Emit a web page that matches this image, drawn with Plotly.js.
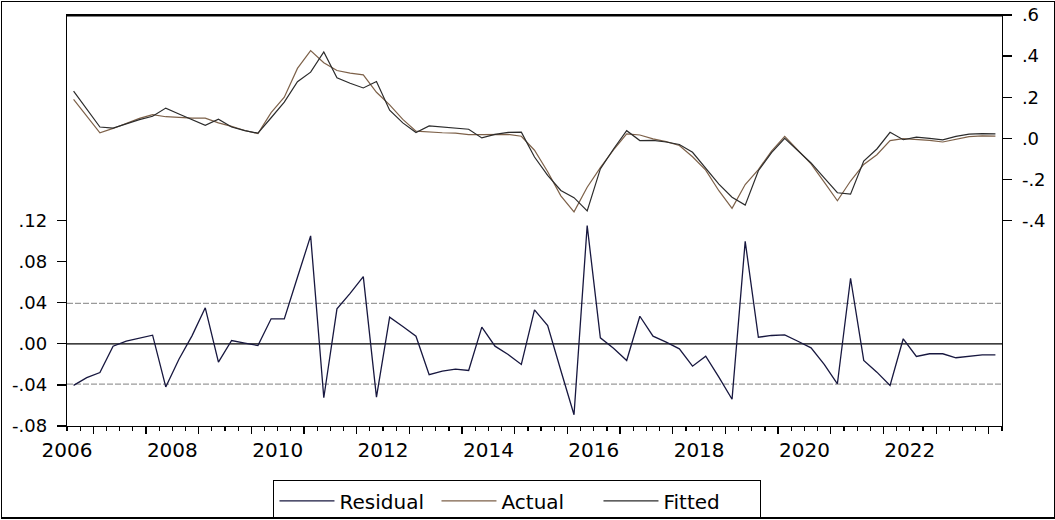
<!DOCTYPE html>
<html><head><meta charset="utf-8">
<script src="https://cdn.plot.ly/plotly-3.0.1.min.js"></script>
<style>
html,body{margin:0;padding:0;background:#fff;}
#chart{position:absolute;left:1px;top:1px;width:1052px;height:515px;border:1px solid #000;border-bottom:2px solid #000;}
</style></head><body><div id="chart"></div>
<script>
// Quarterly sample 2006Q3 - 2024Q1
const firstYear = 2006, firstQuarter = 3;
const residual = [-0.0405, -0.033, -0.028, -0.0023, 0.0025, 0.0058, 0.0084, -0.042, -0.015, 0.008,
  0.035, -0.0178, 0.0032, 0.0006, -0.0017, 0.0243, 0.0243, 0.0647, 0.105, -0.0525,
  0.034, 0.049, 0.0654, -0.0519, 0.0259, 0.0168, 0.0074, -0.0301, -0.0266, -0.0247,
  -0.026, 0.0162, -0.0023, -0.0104, -0.0201, 0.033, 0.0178, -0.026, -0.069, 0.115,
  0.0058, -0.0043, -0.0162, 0.0268, 0.0074, 0.0016, -0.0049, -0.0218, -0.012, -0.0324,
  -0.054, 0.0997, 0.0064, 0.0081, 0.0087, 0.0025, -0.0039, -0.0201, -0.0389, 0.0638,
  -0.0162, -0.0276, -0.0405, 0.0049, -0.0123, -0.0097, -0.0097, -0.0136, -0.012, -0.0107, -0.0107];
const actual = [0.19, 0.11, 0.027, 0.048, 0.074, 0.097, 0.115, 0.105, 0.102, 0.098,
  0.098, 0.075, 0.058, 0.038, 0.023, 0.125, 0.2, 0.34, 0.427, 0.368,
  0.33, 0.317, 0.309, 0.224, 0.163, 0.092, 0.035, 0.03, 0.027, 0.025,
  0.018, 0.018, 0.017, 0.019, 0.01, -0.058, -0.163, -0.28, -0.358, -0.238,
  -0.143, -0.056, 0.021, 0.016, -0.003, -0.016, -0.035, -0.09, -0.155, -0.255,
  -0.341, -0.225, -0.152, -0.062, 0.009, -0.055, -0.124, -0.213, -0.304, -0.208,
  -0.127, -0.08, -0.011, -0.002, -0.006, -0.01, -0.018, -0.005, 0.008, 0.012, 0.011];
const fitted = [0.23, 0.143, 0.055, 0.05, 0.072, 0.091, 0.107, 0.147, 0.118, 0.09,
  0.063, 0.093, 0.055, 0.037, 0.025, 0.10, 0.176, 0.275, 0.322, 0.42,
  0.295, 0.268, 0.245, 0.276, 0.137, 0.075, 0.028, 0.06, 0.054, 0.05,
  0.044, 0.002, 0.019, 0.029, 0.03, -0.091, -0.18, -0.254, -0.289, -0.353,
  -0.149, -0.052, 0.037, -0.011, -0.01, -0.018, -0.03, -0.068, -0.143, -0.223,
  -0.287, -0.325, -0.158, -0.07, 0.0, -0.058, -0.12, -0.193, -0.265, -0.272,
  -0.111, -0.052, 0.029, -0.007, 0.006, 0.0, -0.008, 0.009, 0.02, 0.023, 0.022];
const yearLabels = ['2006','2008','2010','2012','2014','2016','2018','2020','2022'];
const residTickVals = [-0.08, -0.04, 0, 0.04, 0.08, 0.12];
const residTickText = ['-.08', '-.04', '.00', '.04', '.08', '.12'];
const levelTickVals = [-0.4, -0.2, 0, 0.2, 0.4, 0.6];
const levelTickText = ['-.4', '-.2', '.0', '.2', '.4', '.6'];
const stdErr = 0.0393;

// x position: middle of each quarter, in decimal years
const x = residual.map((_, i) => {
  const q = firstQuarter - 1 + i;
  return firstYear + Math.floor(q / 4) + (q % 4) / 4 + 0.125;
});
const xRange = [x[0] - 0.125, x[x.length - 1] + 0.125];
const labelPos = yearLabels.map(y => Number(y) + 0.5);

const FONT = 'DejaVu Sans, Arial, sans-serif';

const traces = [
  {x: x, y: residual, name: 'Residual', type: 'scatter', mode: 'lines',
   xaxis: 'x', yaxis: 'y', line: {color: '#17173f', width: 1.3}},
  {x: x, y: actual, name: 'Actual', type: 'scatter', mode: 'lines',
   xaxis: 'x', yaxis: 'y2', line: {color: '#7d6149', width: 1.2}},
  {x: x, y: fitted, name: 'Fitted', type: 'scatter', mode: 'lines',
   xaxis: 'x', yaxis: 'y2', line: {color: '#2b2b2b', width: 1.2}},
  {x: [], y: [], type: 'scatter', mode: 'lines', xaxis: 'x2', yaxis: 'y',
   showlegend: false, hoverinfo: 'skip'}
];

const layout = {
  width: 1052, height: 515,
  margin: {l: 65, r: 52, t: 13, b: 91},
  paper_bgcolor: '#fff', plot_bgcolor: '#fff',
  font: {family: FONT, color: '#000', size: 18},
  showlegend: true,
  legend: {orientation: 'h', xref: 'container', yref: 'container',
    x: 0.49, xanchor: 'center', y: 0.071, yanchor: 'top',
    bordercolor: '#000', borderwidth: 1, bgcolor: '#fff', itemwidth: 55,
    entrywidth: 92, entrywidthmode: 'pixels',
    font: {family: FONT, size: 20, color: '#000'}, traceorder: 'normal'},
  xaxis: {range: xRange, anchor: 'y', showline: true, mirror: true, linecolor: '#000', linewidth: 1.3,
    showgrid: false, zeroline: false, ticks: 'outside', tickmode: 'linear', tick0: 2007, dtick: 1,
    ticklen: 7, tickwidth: 1.3, tickcolor: '#000', showticklabels: false,
    minor: {ticks: 'outside', tick0: 2006.5, dtick: 0.25, ticklen: 4, tickwidth: 1.2, tickcolor: '#000', showgrid: false}},
  xaxis2: {range: xRange, overlaying: 'x', anchor: 'y', side: 'bottom', showline: false, showgrid: false,
    zeroline: false, ticks: '', tickmode: 'array', tickvals: labelPos, ticktext: yearLabels,
    tickfont: {family: FONT, size: 20, color: '#000'}, ticklabelstandoff: 10},
  yaxis: {range: [-0.08, 0.32], anchor: 'x', showline: true, mirror: false, linecolor: '#000', linewidth: 1.3,
    showgrid: false, zeroline: false, ticks: 'outside', ticklen: 9, tickwidth: 1.3, tickcolor: '#000',
    tickmode: 'array', tickvals: residTickVals, ticktext: residTickText, ticklabelstandoff: 6,
    tickfont: {family: FONT, size: 18, color: '#000'}},
  yaxis2: {range: [-1.4, 0.6], anchor: 'x', overlaying: 'y', side: 'right', showline: true,
    linecolor: '#000', linewidth: 1.3, showgrid: false, zeroline: false, ticks: 'outside',
    ticklen: 9, tickwidth: 1.3, tickcolor: '#000', tickmode: 'array', ticklabelstandoff: 6,
    tickvals: levelTickVals, ticktext: levelTickText,
    tickfont: {family: FONT, size: 18, color: '#000'}},
  shapes: [
    {type: 'line', layer: 'above', xref: 'paper', x0: 0, x1: 1, yref: 'paper', y0: 0.998, y1: 0.998,
     line: {color: '#000', width: 1.4}},
    {type: 'line', layer: 'below', xref: 'paper', x0: 0, x1: 1, yref: 'y', y0: 0, y1: 0,
     line: {color: '#000', width: 1.3}},
    {type: 'line', layer: 'below', xref: 'paper', x0: 0, x1: 1, yref: 'y', y0: stdErr, y1: stdErr,
     line: {color: '#9a9a9a', width: 1.3, dash: '6px,2px'}},
    {type: 'line', layer: 'below', xref: 'paper', x0: 0, x1: 1, yref: 'y', y0: -stdErr, y1: -stdErr,
     line: {color: '#9a9a9a', width: 1.3, dash: '6px,2px'}}
  ]
};

Plotly.newPlot('chart', traces, layout, {displayModeBar: false, staticPlot: true});
</script></body></html>
